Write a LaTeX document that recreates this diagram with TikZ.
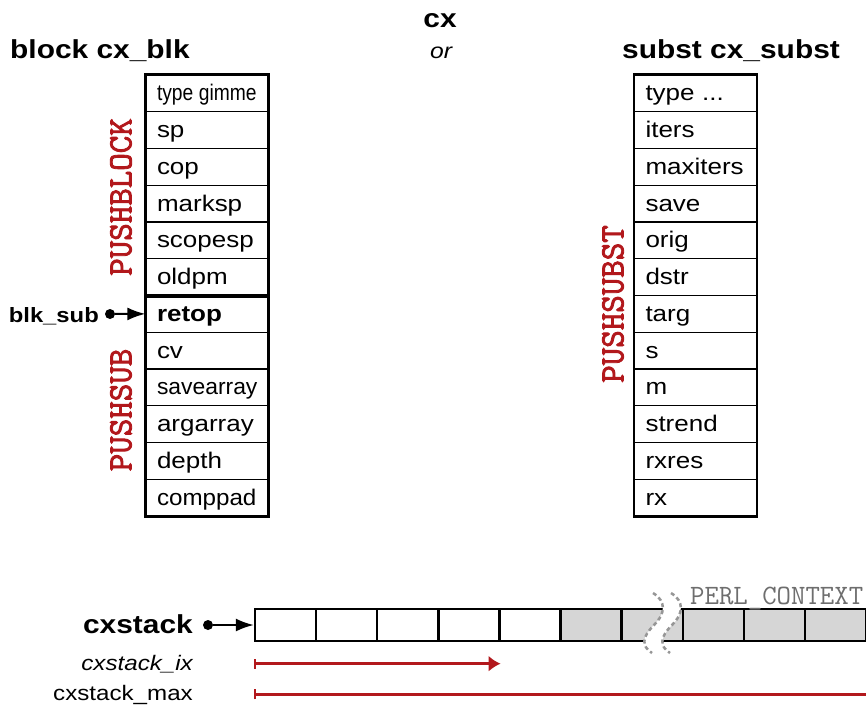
\documentclass[tikz,border=0pt]{standalone}
\usepackage{fontspec}
\setmainfont{Liberation Sans}[FakeStretch=1.15]
\newfontfamily\slabfont{Latin Modern Mono}[FakeBold=2.5]
\newfontfamily\ctxfont{Latin Modern Mono}
\usepackage{graphicx}
\usetikzlibrary{arrows.meta}
\definecolor{perlred}{RGB}{178,24,28}
\definecolor{slotgray}{RGB}{214,214,214}
\definecolor{breakgray}{RGB}{150,150,150}
\definecolor{ctxgray}{RGB}{110,110,110}
\newcommand{\typeetc}{type ...}

\begin{document}
\begin{tikzpicture}[
    x=1pt, y=-1pt,
    field/.style={
      rectangle, draw=black, line width=1.3pt,
      minimum width=122pt, minimum height=36.75pt,
      text width=100pt, align=left,
      inner xsep=11pt, inner ysep=0pt,
      text height=17pt, text depth=2pt,
      font=\fontsize{22.6}{26}\selectfont,
    },
    frame/.style={draw=black, line width=2pt},
    title/.style={inner sep=0pt, font=\fontsize{26}{30}\selectfont\bfseries},
    pushlab/.style={
      rotate=90, inner sep=0pt, text=perlred,
      font=\fontsize{34}{36}\selectfont\slabfont,
    },
    ptrlab/.style={anchor=base east, inner sep=0pt},
    dot/.style={circle, fill=black, inner sep=0pt, minimum size=10pt},
    ptr/.style={-{Latex[length=18pt,width=13pt]}, line width=2pt},
    slot/.style={
      rectangle, draw=black, line width=2.4pt,
      minimum width=61.1pt, minimum height=32pt, inner sep=0pt,
    },
    extent/.style={
      draw=perlred, line width=3pt,
      {Bar[width=10pt,line width=2pt]}-{Latex[length=12pt,width=16pt]},
    },
    brk/.style={draw=breakgray, line width=2.5pt, dash pattern=on 4pt off 3pt},
  ]
  \useasboundingbox (0,0) rectangle (866,705);
  \clip (0,0) rectangle (866,705);

  % --- Titles ---
  \node[title, anchor=base west] (blktitle) at (10,58) {block cx\_blk};
  \node[title, anchor=base] (cxtitle) at (440,27) {cx};
  \node[anchor=base, inner sep=0pt, font=\fontsize{21.5}{24}\selectfont\itshape]
    (ortext) at (441,58) {or};
  \node[title, anchor=base west] (subtitle) at (622,58) {subst cx\_subst};

  % ================================================================
  %  BLOCK  —  PUSHBLOCK + PUSHSUB fields
  % ================================================================
  \foreach \i/\txt in {1/{\scalebox{0.74}[1]{type gimme}}, 2/sp, 3/cop,
      4/marksp, 5/scopesp, 6/oldpm, 7/{\textbf{retop}}, 8/cv,
      9/{\scalebox{0.88}[1]{savearray}}, 10/argarray, 11/depth,
      12/{\scalebox{0.93}[1]{comppad}}} {
    \node[field] (blk\i) at (207, {56.625+36.75*\i}) {\txt};
  }
  \draw[frame] (blk1.north west) rectangle (blk12.south east);
  \draw[line width=4pt] (blk6.south west) -- (blk6.south east);

  \node[pushlab] (pushblock) at (121,197) {PUSHBLOCK};
  \node[pushlab] (pushsub) at (121,410) {PUSHSUB};

  % -- blk_sub pointer --
  \node[ptrlab, font=\fontsize{20.7}{24}\selectfont\bfseries]
    (blksub) at (99,322) {blk\_sub};
  \node[dot] (subdot) at (110,314) {};
  \draw[ptr] (subdot) -- (blk7.west);

  % ================================================================
  %  SUBST  —  PUSHSUBST fields
  % ================================================================
  \foreach \i/\txt in {1/\typeetc, 2/iters, 3/maxiters, 4/save, 5/orig,
      6/dstr, 7/targ, 8/s, 9/m, 10/strend, 11/rxres, 12/rx} {
    \node[field] (sub\i) at (695.5, {56.625+36.75*\i}) {\txt};
  }
  \draw[frame] (sub1.north west) rectangle (sub12.south east);

  \node[pushlab] (pushsubst) at (613,304) {PUSHSUBST};

  % ================================================================
  %  CXSTACK  —  array of PERL_CONTEXT
  % ================================================================
  \foreach \i in {1,...,5} {
    \node[slot, fill=white] (slot\i) at ({255+61.1*(\i-0.5)}, 625) {};
  }
  \foreach \i in {6,...,10} {
    \node[slot, fill=slotgray] (slot\i) at ({255+61.1*(\i-0.5)}, 625) {};
  }
  % -- break in the array --
  \fill[white] (653,593) .. controls (666,601) and (666,613) .. (654,625)
    .. controls (642,637) and (641,646) .. (652,653)
    -- (670,653) .. controls (659,646) and (660,637) .. (672,625)
    .. controls (684,613) and (684,601) .. (671,593) -- cycle;
  \draw[brk] (653,593) .. controls (666,601) and (666,613) .. (654,625)
    .. controls (642,637) and (641,646) .. (652,653);
  \draw[brk] (671,593) .. controls (684,601) and (684,613) .. (672,625)
    .. controls (660,637) and (659,646) .. (670,653);

  \node[anchor=base west, inner sep=0pt, text=ctxgray,
    font=\fontsize{28}{30}\selectfont\ctxfont] (perlctx) at (690,604)
    {PERL\_CONTEXT};

  % -- cxstack pointer --
  \node[ptrlab, font=\fontsize{26}{30}\selectfont\bfseries]
    (cxlab) at (193,633) {cxstack};
  \node[dot] (cxdot) at (208,625) {};
  \draw[ptr] (cxdot) -- (slot1.west);

  % -- extents --
  \node[ptrlab, font=\fontsize{21}{24}\selectfont\itshape]
    (ixlab) at (193,670) {cxstack\_ix};
  \node[ptrlab, font=\fontsize{21}{24}\selectfont]
    (maxlab) at (193,700) {cxstack\_max};
  \draw[extent] (slot1.west |- ixlab) -- (slot4.east |- ixlab);
  \draw[extent, shorten >=-12pt] (slot1.west |- maxlab) -- (slot10.east |- maxlab);

\end{tikzpicture}
\end{document}
